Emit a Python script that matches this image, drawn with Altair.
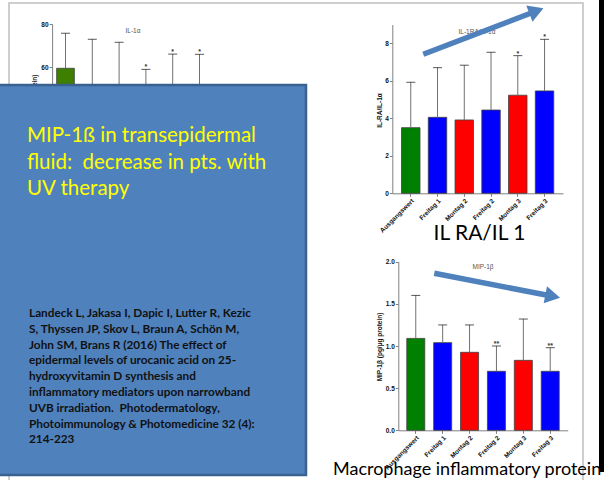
import altair as alt
import pandas as pd

# ---------------- data ----------------
groups = ["Ausgangswert", "Freitag 1", "Montag 2", "Freitag 2", "Montag 3", "Freitag 3"]
bar_colors = ["#008000", "#0000FF", "#FF0000", "#0000FF", "#FF0000", "#0000FF"]
il1a_colors = ["#3F7F00", "#0000FF", "#FF0000", "#0000FF", "#FF0000", "#0000FF"]

il1a_mean = [59.4, 50.0, 49.0, 44.0, 47.0, 46.0]
il1a_upper = [75.7, 72.9, 71.5, 58.9, 66.0, 65.9]
il1a_sig = ["", "", "", "*", "*", "*"]

ratio_mean = [3.5, 4.05, 3.91, 4.44, 5.23, 5.46]
ratio_upper = [5.92, 6.7, 6.83, 7.52, 7.34, 8.21]
ratio_sig = ["", "", "", "", "*", "*"]

mip_mean = [1.09, 1.04, 0.925, 0.70, 0.83, 0.70]
mip_upper = [1.60, 1.25, 1.25, 1.00, 1.32, 0.98]
mip_sig = ["", "", "", "**", "", "**"]

il1a_ticks = [60, 80]
ratio_ticks = [0, 2, 4, 6, 8]
mip_ticks = [0.0, 0.5, 1.0, 1.5, 2.0]

headline = ["MIP-1ß in transepidermal", "fluid:\u00a0 decrease in pts. with", "UV therapy"]
citation = [
    "Landeck L, Jakasa I, Dapic I, Lutter R, Kezic",
    "S, Thyssen JP, Skov L, Braun A, Schön M,",
    "John SM, Brans R (2016) The effect of",
    "epidermal levels of urocanic acid on 25-",
    "hydroxyvitamin D synthesis and",
    "inflammatory mediators upon narrowband",
    "UVB irradiation.\u00a0 Photodermatology,",
    "Photoimmunology & Photomedicine 32 (4):",
    "214-223",
]

W, H = 613, 480
AX_FONT = "Liberation Sans"
TXT_FONT = "Lato"
one = pd.DataFrame({"k": [0]})


def frame(mean, upper, sig, colors):
    return pd.DataFrame({"group": groups, "mean": mean, "upper": upper,
                         "sig": sig, "color": colors})


def panel(df, xr, pi, po, yd, yr, ticks, fmt, ytitle, ytx, yty, ytalign="center",
          xlabels=True):
    xs = alt.Scale(type="band", domain=groups, range=xr, paddingInner=pi, paddingOuter=po)
    ys = alt.Scale(domain=yd, range=yr, nice=False, zero=True)
    base = alt.Chart(df)
    x_axis = alt.Axis(orient="bottom", offset=yr[0] - H, labelAngle=-45, labelAlign="right",
                      labelBaseline="top", labelFont=AX_FONT, labelFontWeight="bold",
                      labelFontSize=6.5, labelColor="#111", labelPadding=1, tickSize=3,
                      tickColor="#808080", domainColor="#808080", title=None, grid=False,
                      labels=xlabels)
    y_axis = alt.Axis(orient="left", offset=-xr[0], values=ticks, format=fmt,
                      labelFont=AX_FONT, labelFontWeight="bold", labelFontSize=6.5,
                      labelColor="#111", labelPadding=1, tickSize=3, tickColor="#808080",
                      domainColor="#808080", grid=False, title=ytitle, titleFont=AX_FONT,
                      titleFontWeight="bold", titleFontSize=6.5, titleColor="#111",
                      titleX=ytx, titleY=yty, titleAngle=-90, titleAlign=ytalign,
                      titleBaseline="middle")
    bars = base.mark_bar(stroke="#404040", strokeWidth=0.8).encode(
        x=alt.X("group:N", sort=groups, scale=xs, axis=x_axis),
        y=alt.Y("mean:Q", scale=ys, axis=y_axis),
        color=alt.Color("color:N", scale=None),
    )
    err = base.mark_rule(color="#707070", strokeWidth=1).encode(
        x=alt.X("group:N", sort=groups, scale=xs, axis=None),
        y=alt.Y("mean:Q", scale=ys, axis=None),
        y2="upper:Q",
    )
    cap = base.mark_tick(color="#111", thickness=1, size=9).encode(
        x=alt.X("group:N", sort=groups, scale=xs, axis=None),
        y=alt.Y("upper:Q", scale=ys, axis=None),
    )
    star = base.mark_text(font=AX_FONT, fontSize=7, fontWeight="bold", color="#333",
                          baseline="bottom", dy=1).encode(
        x=alt.X("group:N", sort=groups, scale=xs, axis=None),
        y=alt.Y("upper:Q", scale=ys, axis=None),
        text="sig:N",
    )
    return [bars, err, cap, star]


def label(txt, x, y, size, color="#555", font=AX_FONT, weight="normal", align="center",
          baseline="middle", line_height=None):
    kw = dict(text=txt, font=font, fontSize=size, color=color, fontWeight=weight,
              align=align, baseline=baseline)
    if line_height is not None:
        kw["lineHeight"] = line_height
    return alt.Chart(one).mark_text(**kw).encode(x=alt.value(x), y=alt.value(y))


def box(x, x2, y, y2, **kw):
    return alt.Chart(one).mark_rect(**kw).encode(
        x=alt.value(x), x2=alt.value(x2), y=alt.value(y), y2=alt.value(y2))


def arrow(x0, y0, x1, y1, angle, color="#4F81BD"):
    shaft = alt.Chart(one).mark_rule(color=color, strokeWidth=5.5, strokeCap="butt").encode(
        x=alt.value(x0), y=alt.value(y0), x2=alt.value(x1), y2=alt.value(y1))
    head = alt.Chart(one).mark_point(shape="triangle-right", filled=True, opacity=1,
                                     color=color, size=300, angle=angle, strokeWidth=0).encode(
        x=alt.value(x1), y=alt.value(y1))
    return [shaft, head]


layers = []
# slide frame
layers.append(box(9, 583, 3, 520, fill=None, stroke="#BFBFBF", strokeWidth=1.5))

# IL-1alpha panel (mostly hidden)
layers += panel(frame(il1a_mean, il1a_upper, il1a_sig, il1a_colors),
                [52.1, 212.9], 0.34, 0.17, [0, 80], [196, 24], il1a_ticks, "d",
                "IL-1α (pg/µg protein)", -17.5, 74, "right", xlabels=False)
layers.append(label("IL-1α", 133, 31, 6.5))

# blue text box
layers.append(box(-3, 306, 85, 475, fill="#4F81BD", stroke="#3A6190", strokeWidth=2.5))
layers.append(label(headline, 27, 142, 20.5, color="#FFFF00", font=TXT_FONT, align="left",
                    baseline="alphabetic", line_height=26.7))
layers.append(label(citation, 29, 317, 11.8, color="#111111", font=TXT_FONT, weight="bold",
                    align="left", baseline="alphabetic", line_height=15.8))

# IL-1RA / IL-1alpha panel
layers += panel(frame(ratio_mean, ratio_upper, ratio_sig, bar_colors),
                [392.3, 563], 0.31, 0.345, [0, 9], [193.3, 24.5], ratio_ticks, "d",
                "IL-RA/IL-1α", -13, 110)
layers.append(label("IL-1RA/IL-1α", 477, 32, 6.5))
layers += arrow(423.3, 54.3, 536.4, 11.0, 339)
layers.append(label("IL RA/IL 1", 479.5, 240, 21, color="#000", font=TXT_FONT,
                    baseline="alphabetic"))

# MIP-1beta panel
layers += panel(frame(mip_mean, mip_upper, mip_sig, bar_colors),
                [398.3, 567.7], 0.33, 0.315, [0, 2], [430.3, 261.7], mip_ticks, ".1f",
                "MIP-1β (pg/µg protein)", -19, 346.5)
layers.append(label("MIP-1β", 483, 267, 6.5))
layers += arrow(434.3, 273.3, 552.7, 296.3, 11)
layers.append(label("Macrophage inflammatory protein", 333, 475, 18, color="#000",
                    font=TXT_FONT, align="left", baseline="alphabetic"))

# dark edge on the right
layers.append(box(599, 604, 0, 472, fill="#000000"))

chart = alt.layer(*layers).resolve_scale(x="independent", y="independent").properties(
    width=W, height=H, autosize=alt.AutoSizeParams(type="none"), padding=0,
    background="white",
).configure_view(stroke=None)

chart.save("out.html", embed_options={"renderer": "svg", "actions": False})
